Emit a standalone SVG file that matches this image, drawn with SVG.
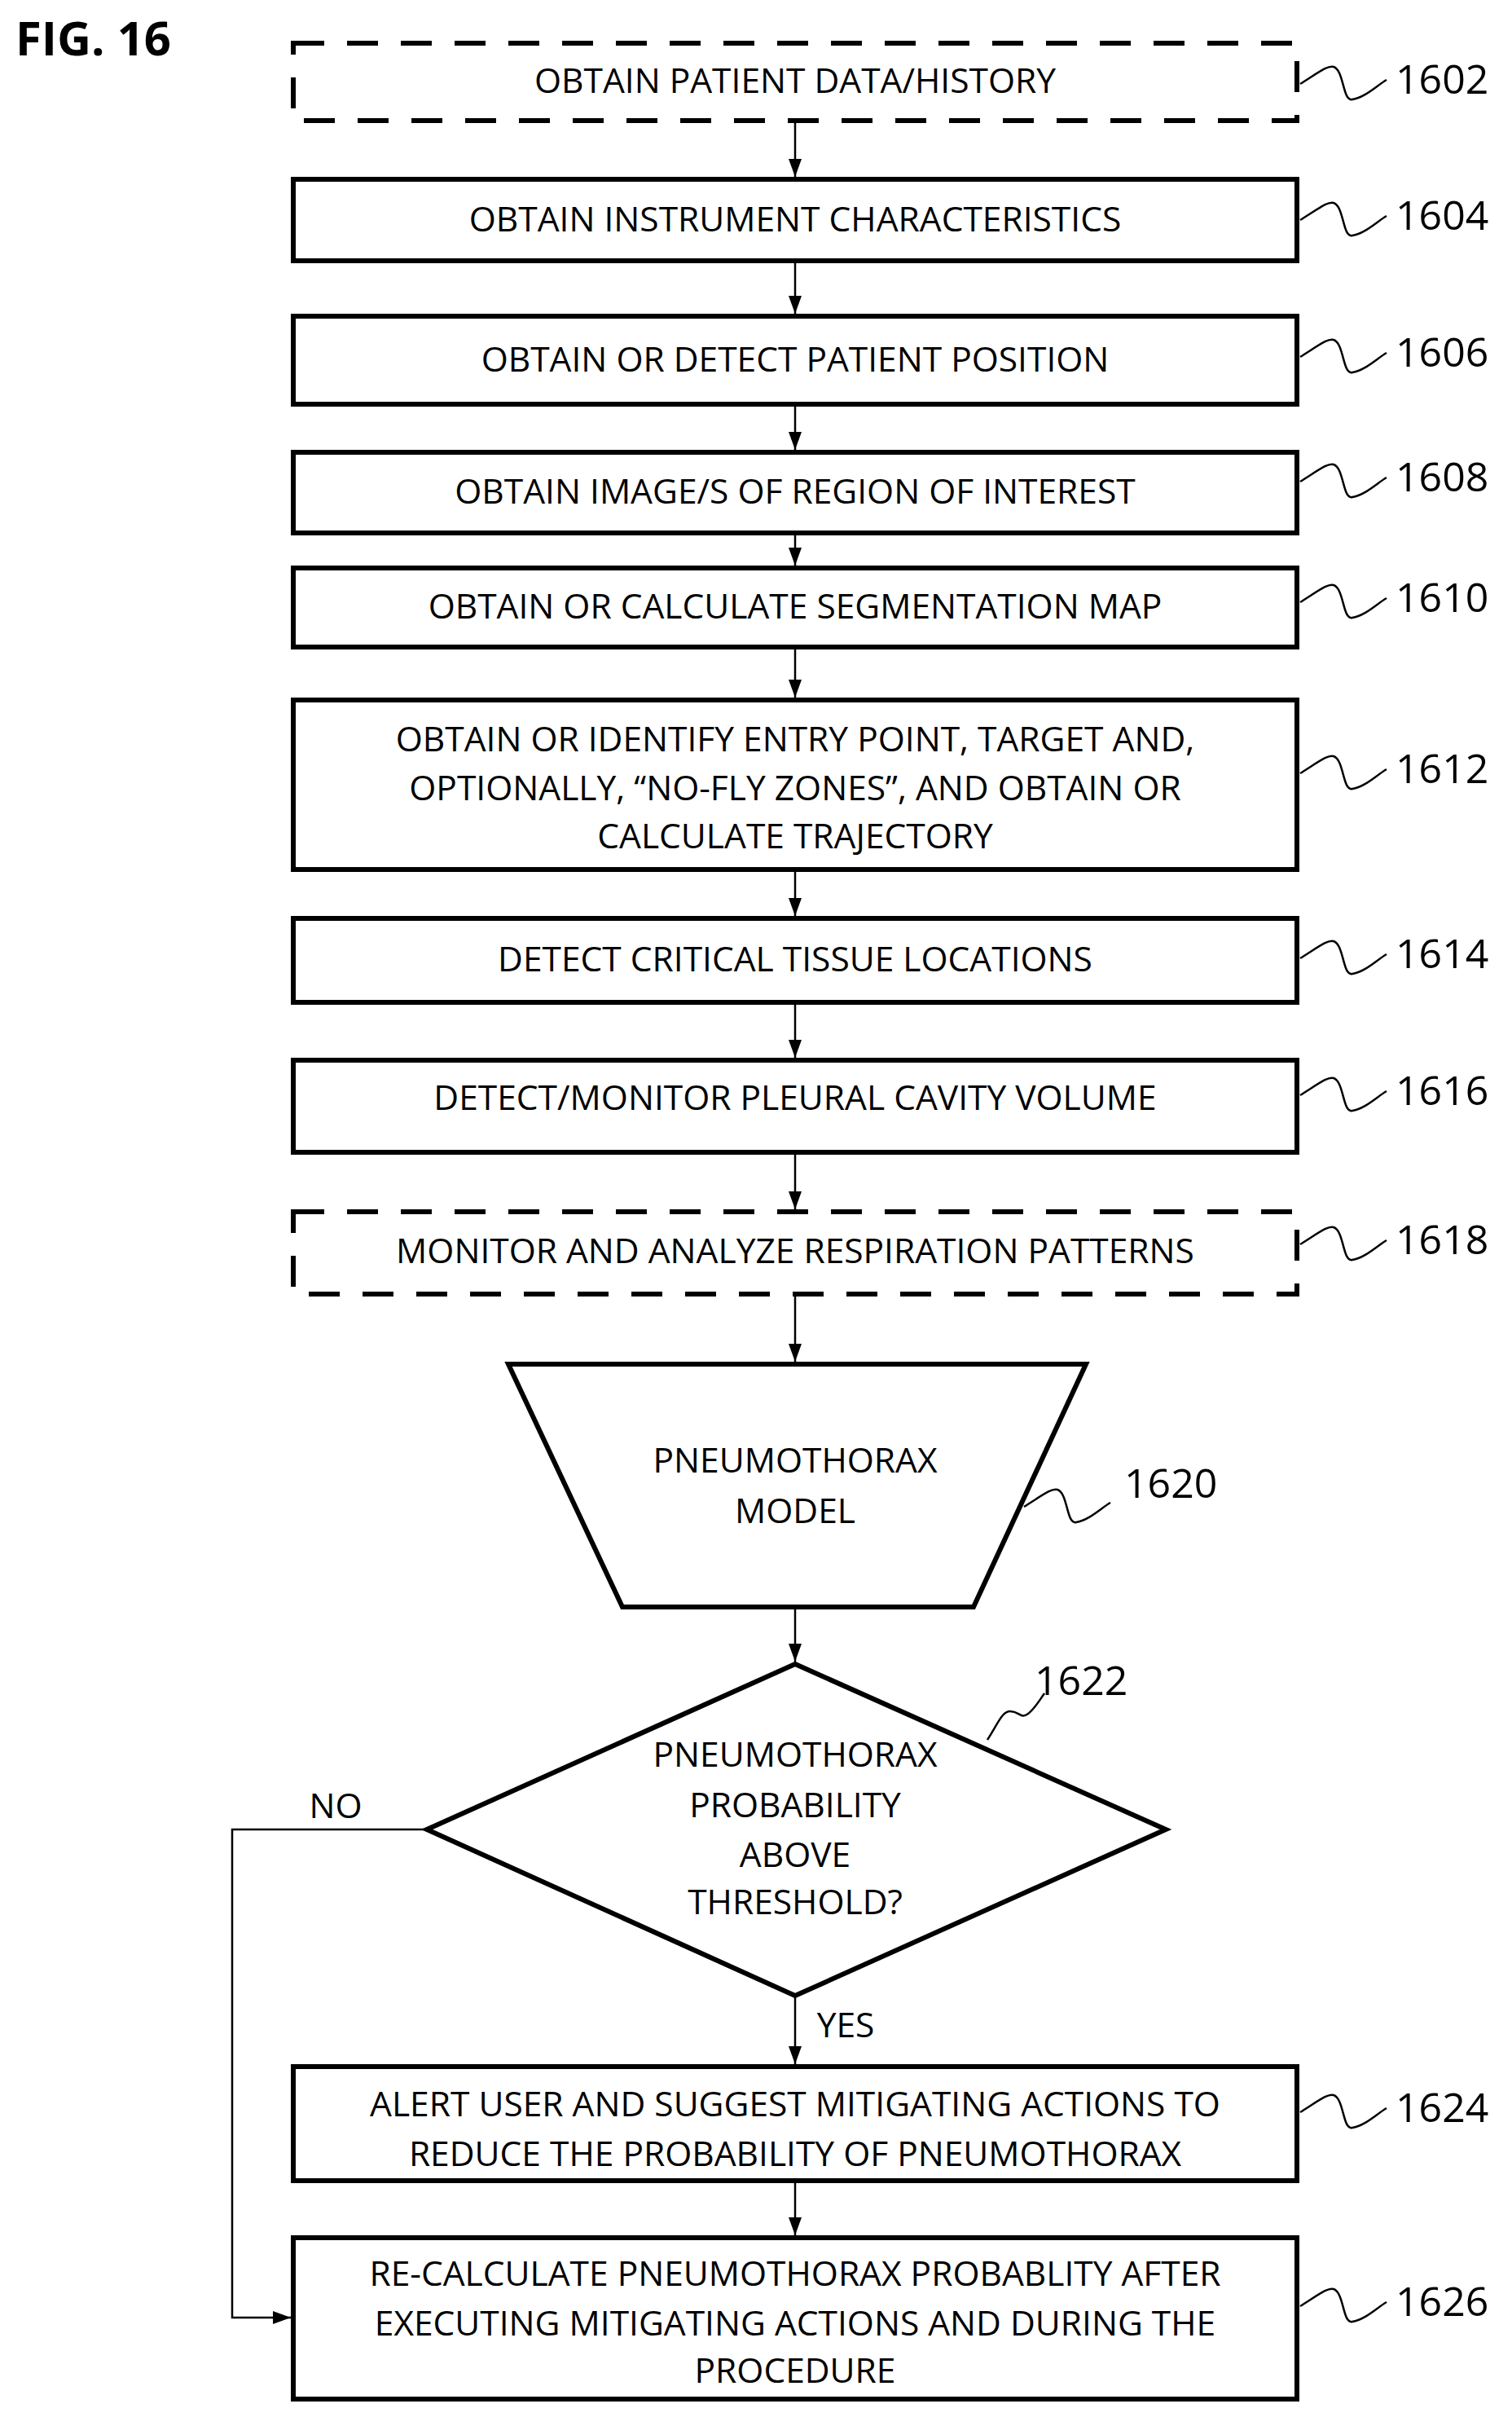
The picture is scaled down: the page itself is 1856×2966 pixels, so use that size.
<svg xmlns="http://www.w3.org/2000/svg" width="1856" height="2966" viewBox="0 0 1856 2966">
<style>
.b{fill:#fff;stroke:#000;stroke-width:6}
.d{fill:#fff;stroke:#000;stroke-width:6;stroke-dasharray:38 28}
.t{font-family:"Open Sans",sans-serif;font-size:42.5px;text-anchor:middle;fill:#000}
.n{font-family:"Open Sans",sans-serif;font-size:50px;fill:#000}
.s{fill:none;stroke:#000;stroke-width:2.5}
.c{fill:none;stroke:#000;stroke-width:2.5;marker-end:url(#a)}
</style>
<defs>
<marker id="a" markerWidth="22" markerHeight="16" refX="22" refY="8" orient="auto" markerUnits="userSpaceOnUse">
<path d="M0,0 L22,8 L0,16 Z" fill="#000"/>
</marker>
</defs>
<rect width="1856" height="2966" fill="#fff"/>
<text x="19" y="68" font-family="Open Sans,sans-serif" font-weight="bold" font-size="58" fill="#000">FIG. 16</text>
<g id="connectors">
<path class="c" d="M976 148 V217"/>
<path class="c" d="M976 320 V385"/>
<path class="c" d="M976 496 V552"/>
<path class="c" d="M976 654 V694"/>
<path class="c" d="M976 794 V856"/>
<path class="c" d="M976 1067 V1124"/>
<path class="c" d="M976 1230 V1298"/>
<path class="c" d="M976 1414 V1484"/>
<path class="c" d="M976 1588 V1671"/>
<path class="c" d="M976 1972 V2039"/>
<path class="c" d="M976 2449 V2533"/>
<path class="c" d="M976 2676 V2743"/>
<path class="c" d="M524 2245 H285 V2844 H357"/>
<text class="t" x="412" y="2231">NO</text>
<text class="t" x="1038" y="2500">YES</text>
</g>
<g id="n1602"><rect class="d" x="360" y="53" width="1232" height="95"/><text class="t" x="976" y="114">OBTAIN PATIENT DATA/HISTORY</text></g>
<g id="n1604"><rect class="b" x="360" y="220" width="1232" height="100"/><text class="t" x="976" y="284">OBTAIN INSTRUMENT CHARACTERISTICS</text></g>
<g id="n1606"><rect class="b" x="360" y="388" width="1232" height="108"/><text class="t" x="976" y="456">OBTAIN OR DETECT PATIENT POSITION</text></g>
<g id="n1608"><rect class="b" x="360" y="555" width="1232" height="99"/><text class="t" x="976" y="618">OBTAIN IMAGE/S OF REGION OF INTEREST</text></g>
<g id="n1610"><rect class="b" x="360" y="697" width="1232" height="97"/><text class="t" x="976" y="759">OBTAIN OR CALCULATE SEGMENTATION MAP</text></g>
<g id="n1612"><rect class="b" x="360" y="859" width="1232" height="208"/><text class="t" x="976" y="922">OBTAIN OR IDENTIFY ENTRY POINT, TARGET AND,</text><text class="t" x="976" y="982">OPTIONALLY, “NO-FLY ZONES”, AND OBTAIN OR</text><text class="t" x="976" y="1041">CALCULATE TRAJECTORY</text></g>
<g id="n1614"><rect class="b" x="360" y="1127" width="1232" height="103"/><text class="t" x="976" y="1192">DETECT CRITICAL TISSUE LOCATIONS</text></g>
<g id="n1616"><rect class="b" x="360" y="1301" width="1232" height="113"/><text class="t" x="976" y="1362">DETECT/MONITOR PLEURAL CAVITY VOLUME</text></g>
<g id="n1618"><rect class="d" x="360" y="1487" width="1232" height="101"/><text class="t" x="976" y="1550">MONITOR AND ANALYZE RESPIRATION PATTERNS</text></g>
<g id="n1620"><path class="b" d="M624 1674 H1333 L1195 1972 H764 Z"/><text class="t" x="976" y="1807">PNEUMOTHORAX</text><text class="t" x="976" y="1869">MODEL</text></g>
<g id="n1622"><path class="b" d="M976 2042 L1431 2245 L976 2449 L524 2245 Z"/><text class="t" x="976" y="2168">PNEUMOTHORAX</text><text class="t" x="976" y="2230">PROBABILITY</text><text class="t" x="976" y="2291">ABOVE</text><text class="t" x="976" y="2349">THRESHOLD?</text></g>
<g id="n1624"><rect class="b" x="360" y="2536" width="1232" height="140"/><text class="t" x="976" y="2597">ALERT USER AND SUGGEST MITIGATING ACTIONS TO</text><text class="t" x="976" y="2658">REDUCE THE PROBABILITY OF PNEUMOTHORAX</text></g>
<g id="n1626"><rect class="b" x="360" y="2746" width="1232" height="198"/><text class="t" x="976" y="2805">RE-CALCULATE PNEUMOTHORAX PROBABLITY AFTER</text><text class="t" x="976" y="2866">EXECUTING MITIGATING ACTIONS AND DURING THE</text><text class="t" x="976" y="2924">PROCEDURE</text></g>
<g id="labels">
<path class="s" d="M1596 103 C1620 88 1630 80 1637 82 C1650 86 1648 125 1660 122 C1675 120 1690 105 1702 98"/><text class="n" x="1713" y="115">1602</text>
<path class="s" d="M1596 270 C1620 255 1630 247 1637 249 C1650 253 1648 292 1660 289 C1675 287 1690 272 1702 265"/><text class="n" x="1713" y="282">1604</text>
<path class="s" d="M1596 438 C1620 423 1630 415 1637 417 C1650 421 1648 460 1660 457 C1675 455 1690 440 1702 433"/><text class="n" x="1713" y="450">1606</text>
<path class="s" d="M1596 591 C1620 576 1630 568 1637 570 C1650 574 1648 613 1660 610 C1675 608 1690 593 1702 586"/><text class="n" x="1713" y="603">1608</text>
<path class="s" d="M1596 739 C1620 724 1630 716 1637 718 C1650 722 1648 761 1660 758 C1675 756 1690 741 1702 734"/><text class="n" x="1713" y="751">1610</text>
<path class="s" d="M1596 949 C1620 934 1630 926 1637 928 C1650 932 1648 971 1660 968 C1675 966 1690 951 1702 944"/><text class="n" x="1713" y="961">1612</text>
<path class="s" d="M1596 1176 C1620 1161 1630 1153 1637 1155 C1650 1159 1648 1198 1660 1195 C1675 1193 1690 1178 1702 1171"/><text class="n" x="1713" y="1188">1614</text>
<path class="s" d="M1596 1344 C1620 1329 1630 1321 1637 1323 C1650 1327 1648 1366 1660 1363 C1675 1361 1690 1346 1702 1339"/><text class="n" x="1713" y="1356">1616</text>
<path class="s" d="M1596 1527 C1620 1512 1630 1504 1637 1506 C1650 1510 1648 1549 1660 1546 C1675 1544 1690 1529 1702 1522"/><text class="n" x="1713" y="1539">1618</text>
<path class="s" d="M1257 1849 C1281 1834 1291 1826 1298 1828 C1311 1832 1309 1871 1321 1868 C1336 1866 1351 1851 1363 1844"/><text class="n" x="1380" y="1838">1620</text>
<path class="s" d="M1212 2135 C1225 2115 1230 2100 1240 2100 C1252 2100 1252 2110 1262 2103 C1270 2097 1275 2088 1282 2078"/><text class="n" x="1270" y="2080">1622</text>
<path class="s" d="M1596 2592 C1620 2577 1630 2569 1637 2571 C1650 2575 1648 2614 1660 2611 C1675 2609 1690 2594 1702 2587"/><text class="n" x="1713" y="2604">1624</text>
<path class="s" d="M1596 2830 C1620 2815 1630 2807 1637 2809 C1650 2813 1648 2852 1660 2849 C1675 2847 1690 2832 1702 2825"/><text class="n" x="1713" y="2842">1626</text>
</g>
</svg>
